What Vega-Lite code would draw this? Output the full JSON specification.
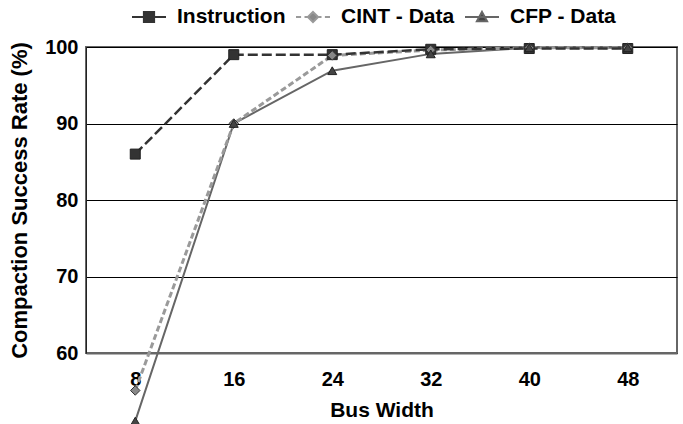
{
  "$schema": "https://vega.github.io/schema/vega-lite/v6.json",
  "autosize": "none",
  "width": 591,
  "height": 306,
  "padding": {"left": 86, "top": 47, "right": 6, "bottom": 71},
  "background": "white",
  "config": {
    "font": "Liberation Sans",
    "view": {"stroke": "#666666", "strokeWidth": 2}
  },
  "data": {
    "values": [
      {"bw": 8, "series": "Instruction", "rate": 86},
      {"bw": 16, "series": "Instruction", "rate": 99},
      {"bw": 24, "series": "Instruction", "rate": 99},
      {"bw": 32, "series": "Instruction", "rate": 99.7},
      {"bw": 40, "series": "Instruction", "rate": 99.8},
      {"bw": 48, "series": "Instruction", "rate": 99.8},
      {"bw": 8, "series": "CINT - Data", "rate": 55.1},
      {"bw": 16, "series": "CINT - Data", "rate": 90},
      {"bw": 24, "series": "CINT - Data", "rate": 98.9},
      {"bw": 32, "series": "CINT - Data", "rate": 99.6},
      {"bw": 40, "series": "CINT - Data", "rate": 99.9},
      {"bw": 48, "series": "CINT - Data", "rate": 99.9},
      {"bw": 8, "series": "CFP - Data", "rate": 51.1},
      {"bw": 16, "series": "CFP - Data", "rate": 90},
      {"bw": 24, "series": "CFP - Data", "rate": 96.9},
      {"bw": 32, "series": "CFP - Data", "rate": 99.1},
      {"bw": 40, "series": "CFP - Data", "rate": 99.9},
      {"bw": 48, "series": "CFP - Data", "rate": 99.9}
    ]
  },
  "encoding": {
    "x": {
      "field": "bw", "type": "ordinal", "title": "Bus Width",
      "scale": {"type": "point", "padding": 0.5},
      "axis": {
        "labelAngle": 0, "labelFontSize": 20, "labelFontWeight": "bold", "labelColor": "black",
        "labelPadding": 16, "ticks": false, "grid": false,
        "domain": true, "domainColor": "#666666", "domainWidth": 2,
        "titleFontSize": 21, "titleFontWeight": "bold", "titleColor": "black", "titlePadding": 10
      }
    },
    "y": {
      "field": "rate", "type": "quantitative", "title": "Compaction Success Rate (%)",
      "scale": {"domain": [60, 100], "nice": false, "zero": false, "clamp": false},
      "axis": {
        "values": [60, 70, 80, 90, 100], "labelFontSize": 20, "labelFontWeight": "bold", "labelColor": "black",
        "labelPadding": 8, "ticks": false, "grid": true, "gridColor": "black", "gridWidth": 1, "gridOpacity": 1,
        "domain": true, "domainColor": "#222222", "domainWidth": 1,
        "titleFontSize": 22, "titleFontWeight": "bold", "titleColor": "black", "titlePadding": 13
      }
    },
    "color": {
      "field": "series", "type": "nominal",
      "scale": {"domain": ["Instruction", "CINT - Data", "CFP - Data"], "range": ["#333333", "#9a9a9a", "#666666"]},
      "legend": {
        "orient": "none", "legendX": 45, "legendY": -48, "direction": "horizontal", "columns": 3,
        "title": null, "symbolSize": 1156, "symbolStrokeWidth": 2,
        "labelFontSize": 21, "labelFontWeight": "bold", "labelColor": "black", "labelOffset": 10,
        "columnPadding": 6,
        "encode": {
          "symbols": {
            "update": {
              "shape": {"signal": "datum.value === 'Instruction' ? 'M-1,0H1M-0.3,-0.3H0.3V0.3H-0.3Z' : datum.value === 'CINT - Data' ? 'M-1,0H-0.7M-0.5,0H-0.32M0.32,0H0.5M0.7,0H1M0,-0.3L0.3,0L0,0.3L-0.3,0Z' : 'M-1,0H1M0,-0.3L0.3,0.25H-0.3Z'"},
              "fill": {"signal": "datum.value === 'Instruction' ? '#333333' : datum.value === 'CINT - Data' ? '#888888' : '#444444'"},
              "stroke": {"signal": "datum.value === 'Instruction' ? '#333333' : datum.value === 'CINT - Data' ? '#999999' : '#666666'"},
              "strokeWidth": {"value": 2},
              "opacity": {"value": 1},
              "fillOpacity": {"value": 1}
            }
          }
        }
      }
    }
  },
  "layer": [
    {
      "transform": [{"filter": "datum.series === 'CFP - Data'"}],
      "mark": {"type": "line", "strokeWidth": 2, "clip": false}
    },
    {
      "transform": [{"filter": "datum.series === 'CINT - Data'"}],
      "mark": {"type": "line", "strokeWidth": 3, "strokeDash": [6, 3], "clip": false}
    },
    {
      "transform": [{"filter": "datum.series === 'Instruction'"}],
      "mark": {"type": "line", "strokeWidth": 2.5, "strokeDash": [10, 4], "clip": false}
    },
    {
      "transform": [{"filter": "datum.series === 'Instruction'"}],
      "mark": {"type": "point", "shape": "square", "filled": true, "fill": "#333333", "stroke": "#222222", "strokeWidth": 1, "size": 100, "opacity": 1, "clip": false},
      "encoding": {"color": {"value": "#333333"}}
    },
    {
      "transform": [{"filter": "datum.series === 'CINT - Data'"}],
      "mark": {"type": "point", "shape": "diamond", "filled": true, "fill": "#888888", "stroke": "#333333", "strokeWidth": 1, "size": 90, "opacity": 1, "clip": false},
      "encoding": {"color": {"value": "#888888"}}
    },
    {
      "transform": [{"filter": "datum.series === 'CFP - Data'"}],
      "mark": {"type": "point", "shape": "triangle-up", "filled": true, "fill": "#444444", "stroke": "#222222", "strokeWidth": 1, "size": 80, "opacity": 1, "clip": false},
      "encoding": {"color": {"value": "#444444"}}
    }
  ]
}
